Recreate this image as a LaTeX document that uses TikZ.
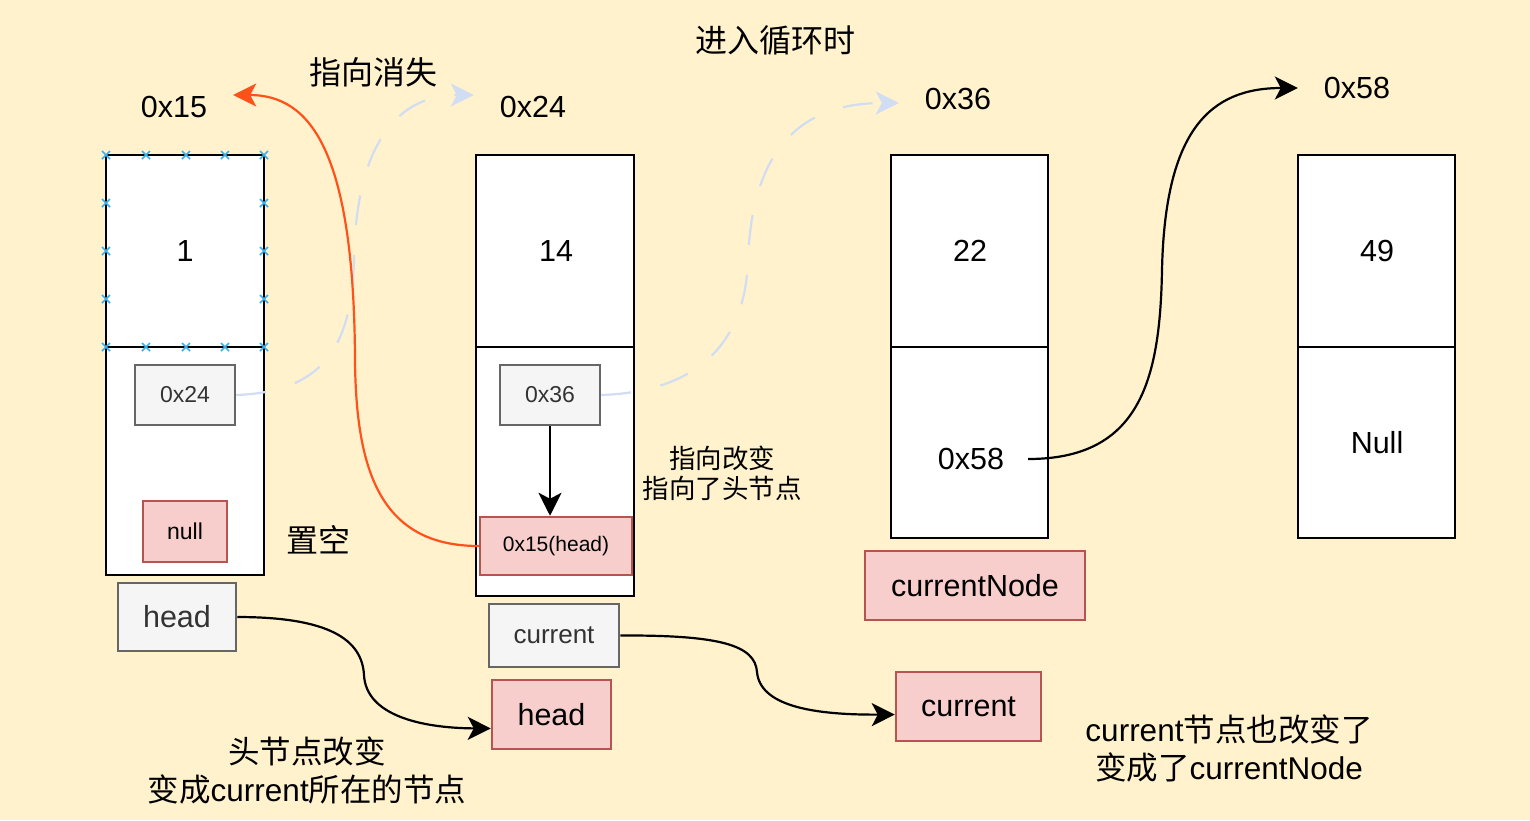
\documentclass[tikz,border=0pt]{standalone}
\usepackage{fontspec}
\setmainfont{Liberation Sans}
\newfontfamily\cjk{Noto Sans CJK SC}
\usetikzlibrary{arrows.meta}
\definecolor{bgc}{HTML}{FFF2CC}
\definecolor{gfill}{HTML}{F5F5F5}
\definecolor{gline}{HTML}{666666}
\definecolor{gtext}{HTML}{333333}
\definecolor{rfill}{HTML}{F8CECC}
\definecolor{rline}{HTML}{B85450}
\definecolor{pale}{HTML}{D0DDF3}
\definecolor{redarr}{HTML}{FF5119}
\definecolor{xmark}{HTML}{3DAEE9}
\tikzset{
  cell/.style={draw=black, line width=2.5pt, fill=white, inner sep=0pt, minimum width=158pt},
  gbox/.style={draw=gline, fill=gfill, text=gtext, line width=2.5pt, inner sep=0pt},
  rbox/.style={draw=rline, fill=rfill, text=black, line width=2.5pt, inner sep=0pt},
  big/.style={font=\fontsize{30.5}{36}\selectfont},
  small/.style={font=\fontsize{23}{26}\selectfont},
  lbl/.style={big, inner sep=0pt, minimum width=118pt, minimum height=30pt},
  note/.style={inner sep=0pt, align=center},
  zh/.style={font=\fontsize{32}{38}\selectfont},
  arr/.style={line width=2.2pt, -{Stealth[length=23pt,width=23pt,inset=6pt]}},
  dsh/.style={line width=2.2pt, draw=pale, dash pattern=on 30pt off 30pt,
     -{Stealth[length=23pt,width=23pt,inset=6pt,fill=pale]}},
}
\begin{document}
\begin{tikzpicture}[x=1pt,y=-1pt]
\fill[bgc] (0,0) rectangle (1530,820);
\useasboundingbox (0,0) rectangle (1530,820);

% address labels
\node[lbl] (l15) at (174,107) {0x15};
\node[lbl] (l24) at (533,107) {0x24};
\node[lbl] (l36) at (958,99) {0x36};
\node[lbl] (l58) at (1357,88) {0x58};

% memory cells
\node[cell, minimum height=192pt] (c1t) at (185,251) {};
\node[cell, minimum height=228pt] (c1b) at (185,461) {};
\node[cell, minimum height=192pt] (c2t) at (555,251) {};
\node[cell, minimum height=249pt] (c2b) at (555,471.5) {};
\node[cell, minimum width=157pt, minimum height=192pt] (c3t) at (969.5,251) {};
\node[cell, minimum width=157pt, minimum height=191pt] (c3b) at (969.5,442.5) {};
\node[cell, minimum width=157pt, minimum height=192pt] (c4t) at (1376.5,251) {};
\node[cell, minimum width=157pt, minimum height=191pt] (c4b) at (1376.5,442.5) {};

\node[big] (v1) at (185,251) {1};
\node[big] (v14) at (556,251) {14};
\node[big] (v22) at (970,251) {22};
\node[big] (v49) at (1377,251) {49};
\node[big] (vnull) at (1377,443) {Null};
\node[big, inner sep=0pt, minimum width=114pt] (t58) at (971,459) {0x58};

% selection marks on the first cell
\foreach \px in {106,146,186,225,264}{
  \foreach \py in {155,347}{
    \draw[xmark, line width=1.6pt] (\px-4,\py-4) -- (\px+4,\py+4) (\px-4,\py+4) -- (\px+4,\py-4);
  }
}
\foreach \py in {203,251,299}{
  \foreach \px in {106,264}{
    \draw[xmark, line width=1.6pt] (\px-4,\py-4) -- (\px+4,\py+4) (\px-4,\py+4) -- (\px+4,\py-4);
  }
}

% inner boxes
\node[gbox, small, minimum width=100pt, minimum height=60pt] (b024) at (185,395) {0x24};
\node[rbox, small, minimum width=84pt, minimum height=61pt] (bnull) at (185,531.5) {null};
\node[gbox, big, minimum width=118pt, minimum height=68pt] (hg) at (177,617) {head};
\node[gbox, small, minimum width=100pt, minimum height=60pt] (b036) at (550,395) {0x36};
\node[rbox, font=\fontsize{21}{24}\selectfont, minimum width=152pt, minimum height=58pt] (h15) at (556,546) {0x15(head)};
\node[gbox, font=\fontsize{26}{30}\selectfont, minimum width=130pt, minimum height=63pt] (cg) at (554,635.5) {current};
\node[rbox, big, minimum width=119pt, minimum height=69pt] (hr) at (551.5,714.5) {head};
\node[rbox, big, minimum width=220pt, minimum height=69pt] (cn) at (975,585.5) {currentNode};
\node[rbox, big, minimum width=145pt, minimum height=69pt] (cr) at (968.5,706.5) {current};

% notes
\node[note, zh] (n1) at (775,40) {\cjk 进入循环时};
\node[note, zh] (n2) at (373,72) {\cjk 指向消失};
\node[note, zh] (n3) at (318,540) {\cjk 置空};
\node[note, font=\fontsize{26.5}{30}\selectfont] (n4) at (722,473) {\cjk 指向改变\\\cjk 指向了头节点};
\node[note, font=\fontsize{31.5}{38}\selectfont] (n5) at (307,770) {\cjk 头节点改变\\{\cjk 变成}current{\cjk 所在的节点}};
\node[note, font=\fontsize{31.5}{38}\selectfont] (n6) at (1229,748) {current{\cjk 节点也改变了}\\{\cjk 变成了}currentNode};

% connectors
\draw[dsh] (b024.east) .. controls (320,392) and (352,350) .. (354,260)
   .. controls (356,140) and (400,95) .. ([yshift=12pt]l24.west);
\draw[dsh] (b036.east) .. controls (690,392) and (745,350) .. (748,260)
   .. controls (752,150) and (800,103) .. ([yshift=-4pt]l36.west);
\draw[arr, draw=redarr, -{Stealth[length=23pt,width=23pt,inset=6pt,fill=redarr]}]
   (h15.west) .. controls (380,546) and (356,470) .. (355,360)
   .. controls (354,150) and (310,95) .. ([yshift=12pt]l15.east);
\draw[arr] (b036.south) -- (b036.south |- h15.north);
\draw[arr] (t58.east) .. controls (1140,459) and (1160,380) .. (1162,270)
   .. controls (1165,130) and (1210,88) .. (l58.west);
\draw[arr] (hg.east) .. controls (330,617) and (362,640) .. (364,675)
   .. controls (366,715) and (420,728) .. ([yshift=-14pt]hr.west);
\draw[arr] (cg.east) .. controls (720,635) and (755,645) .. (757,672)
   .. controls (760,705) and (810,715) .. ([yshift=-8pt]cr.west);
\end{tikzpicture}
\end{document}
